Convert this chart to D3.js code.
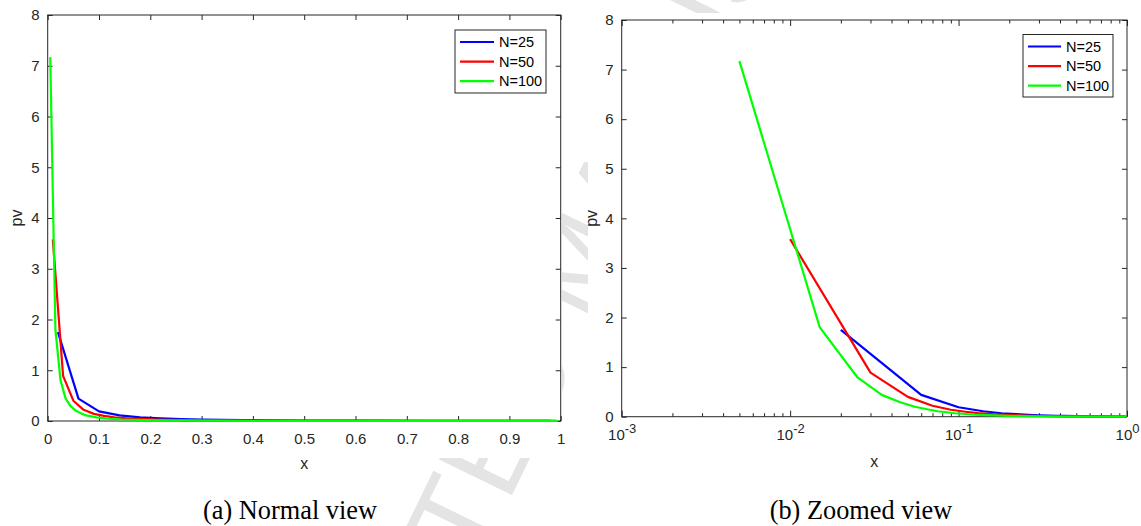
<!DOCTYPE html>
<html>
<head>
<meta charset="utf-8">
<script src="https://cdn.jsdelivr.net/npm/d3@7"></script>
<style>
  html, body { margin: 0; padding: 0; background: #fff; }
  svg { display: block; }
  .tick text { font-family: "Liberation Sans", Arial, sans-serif; fill: #262626; }
</style>
</head>
<body>
<svg id="fig" width="1141" height="526"></svg>
<script>
// ---- data ----------------------------------------------------------------
const seriesNames = ["N=25", "N=50", "N=100"];

const x25  = [0.02, 0.06, 0.10, 0.14, 0.18, 0.22, 0.26, 0.30, 0.34, 0.38, 0.42, 0.50, 0.62, 0.74, 0.86, 0.98];
const pv25 = [1.75, 0.44, 0.19, 0.11, 0.07, 0.05, 0.036, 0.027, 0.022, 0.018, 0.015, 0.010, 0.007, 0.005, 0.004, 0.003];

const x50  = [0.01, 0.03, 0.05, 0.07, 0.09, 0.11, 0.13, 0.15, 0.17, 0.19, 0.23, 0.27, 0.31, 0.41, 0.51, 0.71, 0.99];
const pv50 = [3.58, 0.89, 0.40, 0.22, 0.14, 0.10, 0.073, 0.056, 0.044, 0.036, 0.025, 0.018, 0.014, 0.008, 0.005, 0.003, 0.002];

const x100  = [0.005, 0.015, 0.025, 0.035, 0.045, 0.055, 0.065, 0.075, 0.085, 0.095, 0.105, 0.125, 0.145, 0.165, 0.195, 0.245, 0.305, 0.405, 0.505, 0.705, 0.995];
const pv100 = [7.17, 1.80, 0.80, 0.44, 0.29, 0.20, 0.15, 0.11, 0.09, 0.07, 0.06, 0.04, 0.03, 0.025, 0.018, 0.012, 0.008, 0.004, 0.003, 0.002, 0.001];

const yTicks = [0, 1, 2, 3, 4, 5, 6, 7, 8];
const xTicksLinear = [0, 0.1, 0.2, 0.3, 0.4, 0.5, 0.6, 0.7, 0.8, 0.9, 1];
const xTicksLog = [1e-3, 1e-2, 1e-1, 1];
const captions = ["(a) Normal view", "(b) Zoomed view"];

// ---- drawing -------------------------------------------------------------
const colors = ["#0000ff", "#ff0000", "#00ff00"];
const series = [
  { name: seriesNames[0], xs: x25,  ys: pv25,  color: colors[0] },
  { name: seriesNames[1], xs: x50,  ys: pv50,  color: colors[1] },
  { name: seriesNames[2], xs: x100, ys: pv100, color: colors[2] }
];

const svg = d3.select("#fig");
const AXC = "#262626";

// faint diagonal stamp behind the two figure images
const stamp = svg.append("g");
stamp.append("text")
  .attr("transform", "translate(580,262) rotate(-64)")
  .attr("text-anchor", "middle")
  .attr("dominant-baseline", "central")
  .style("font-family", "Liberation Sans, Arial, sans-serif")
  .style("font-size", "118px")
  .style("fill", "#e4e4e4")
  .text("ACCEPTED MANUSCRIPT");

// white image backgrounds
svg.append("rect").attr("x", 0).attr("y", 0).attr("width", 562).attr("height", 458).attr("fill", "#fff");
svg.append("rect").attr("x", 588).attr("y", 13).attr("width", 553).attr("height", 445).attr("fill", "#fff");

function panel(opts) {
  const { x, y, legend, isLog, xLabelY, pvX, capX } = opts;
  const g = svg.append("g");
  const [x0, x1] = x.range();
  const [yb, yt] = y.range();

  // box
  g.append("rect").attr("x", x0).attr("y", yt).attr("width", x1 - x0).attr("height", yb - yt)
    .attr("fill", "none").attr("stroke", AXC).attr("stroke-width", 1);

  const fs = "15px";
  // bottom axis
  const xb = isLog
    ? d3.axisBottom(x).tickValues(xTicksLog).tickSize(-6)
    : d3.axisBottom(x).tickValues(xTicksLinear).tickSize(-5).tickFormat(d3.format("~g"));
  const gxb = g.append("g").attr("transform", `translate(0,${yb})`).call(xb);
  const xt = isLog
    ? d3.axisTop(x).tickValues(xTicksLog).tickSize(-6).tickFormat("")
    : d3.axisTop(x).tickValues(xTicksLinear).tickSize(-5).tickFormat("");
  g.append("g").attr("transform", `translate(0,${yt})`).call(xt);

  if (isLog) {
    // minor ticks 2..9 in every decade
    const minors = [];
    for (const dec of [1e-3, 1e-2, 1e-1]) for (let m = 2; m <= 9; m++) minors.push(m * dec);
    g.append("g").attr("transform", `translate(0,${yb})`)
      .call(d3.axisBottom(x).tickValues(minors).tickSize(-3.5).tickFormat(""));
    g.append("g").attr("transform", `translate(0,${yt})`)
      .call(d3.axisTop(x).tickValues(minors).tickSize(-3.5).tickFormat(""));
    // power-of-ten labels with superscript exponents
    gxb.selectAll(".tick text").text(null).each(function (d) {
      const t = d3.select(this);
      t.append("tspan").text("10");
      t.append("tspan").attr("dy", "-0.55em").style("font-size", "13px")
        .text(String(Math.round(Math.log10(d))));
    });
  }
  gxb.selectAll(".tick text").style("font-size", fs).attr("y", 12.5).attr("dy", "0.71em");

  const yl = d3.axisLeft(y).tickValues(yTicks).tickSize(-5).tickPadding(8);
  const gyl = g.append("g").attr("transform", `translate(${x0},0)`).call(yl);
  gyl.selectAll(".tick text").style("font-size", fs);
  g.append("g").attr("transform", `translate(${x1},0)`)
    .call(d3.axisRight(y).tickValues(yTicks).tickSize(-5).tickFormat(""));

  g.selectAll(".domain").remove();
  g.selectAll(".tick line").attr("stroke", AXC).attr("stroke-width", 1);

  // axis titles
  g.append("text").attr("x", (x0 + x1) / 2).attr("y", xLabelY).attr("text-anchor", "middle")
    .style("font-family", "Liberation Sans, Arial, sans-serif").style("font-size", "16px")
    .style("fill", AXC).text("x");
  g.append("text").attr("transform", `translate(${pvX},${(yt + yb) / 2}) rotate(-90)`)
    .attr("text-anchor", "middle")
    .style("font-family", "Liberation Sans, Arial, sans-serif").style("font-size", "16px")
    .style("fill", AXC).text("pv");

  // curves
  const line = d3.line().x(d => x(d[0])).y(d => y(d[1]));
  series.forEach(s => {
    g.append("path").datum(d3.zip(s.xs, s.ys)).attr("d", line)
      .attr("fill", "none").attr("stroke", s.color).attr("stroke-width", 2.2)
      .attr("stroke-linejoin", "round");
  });

  // legend
  const L = legend;
  const lg = g.append("g");
  lg.append("rect").attr("x", L.x).attr("y", L.y).attr("width", L.w).attr("height", L.h)
    .attr("fill", "#fff").attr("stroke", AXC).attr("stroke-width", 1);
  series.forEach((s, i) => {
    const cy = L.y + 12 + i * 19.6;
    lg.append("line").attr("x1", L.x + 5).attr("x2", L.x + 5 + L.len).attr("y1", cy).attr("y2", cy)
      .attr("stroke", s.color).attr("stroke-width", 2.2);
    lg.append("text").attr("x", L.x + 10 + L.len).attr("y", cy).attr("dy", "0.36em")
      .style("font-family", "Liberation Sans, Arial, sans-serif").style("font-size", "14.5px")
      .style("fill", "#000").text(s.name);
  });

  // caption
  svg.append("text").attr("x", capX).attr("y", 519).attr("text-anchor", "middle")
    .style("font-family", "Liberation Serif, 'Times New Roman', serif").style("font-size", "26.3px")
    .style("fill", "#000").text(opts.caption);
}

panel({
  x: d3.scaleLinear().domain([0, 1]).range([47.7, 560.7]),
  y: d3.scaleLinear().domain([0, 8]).range([421, 15]),
  isLog: false,
  legend: { x: 455, y: 30, w: 91, h: 63, len: 34 },
  xLabelY: 469, pvX: 22, capX: 290, caption: captions[0]
});

panel({
  x: d3.scaleLog().domain([1e-3, 1]).range([621.7, 1127]),
  y: d3.scaleLinear().domain([0, 8]).range([416.7, 20]),
  isLog: true,
  legend: { x: 1023, y: 34.5, w: 90, h: 62.5, len: 33 },
  xLabelY: 467, pvX: 597, capX: 861, caption: captions[1]
});
</script>
</body>
</html>
